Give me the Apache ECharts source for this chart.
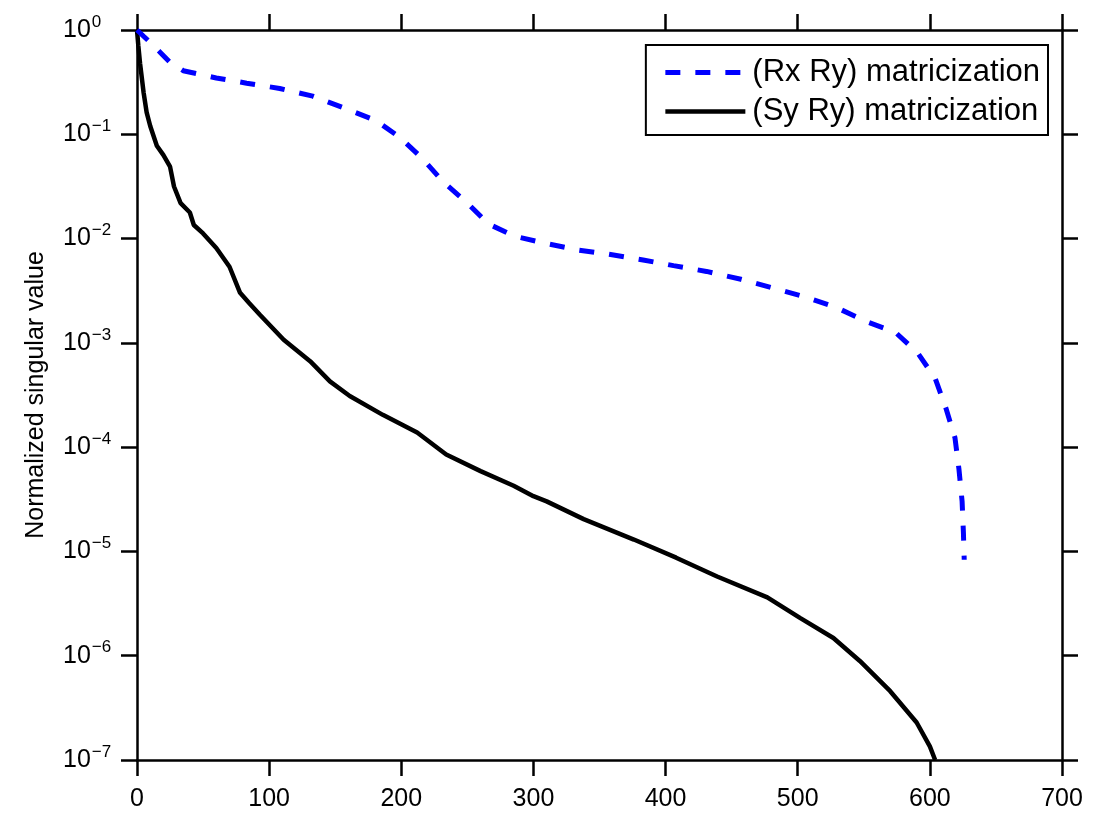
<!DOCTYPE html>
<html>
<head>
<meta charset="utf-8">
<script src="https://cdn.jsdelivr.net/npm/echarts@6/dist/echarts.min.js"></script>
<style>
html,body{margin:0;padding:0;background:#fff;}
#chart{width:1095px;height:830px;}
</style>
</head>
<body>
<div id="chart"></div>
<script>
// ---- data ----
var xTicks = [0, 100, 200, 300, 400, 500, 600, 700];
var yTickExponents = ['0', '\u22121', '\u22122', '\u22123', '\u22124', '\u22125', '\u22126', '\u22127'];
var seriesNames = ['(Rx Ry) matricization', '(Sy Ry) matricization'];

var rxX = [0, 5, 10, 18, 25, 35, 60, 83, 108, 133, 158, 181, 199, 215, 232, 250, 266, 286, 311, 334, 357, 383, 406, 431, 457, 480, 503, 529, 553, 574, 591, 604, 612, 619, 622, 624.4, 625.4, 626];
var rxY = [1, 0.871, 0.759, 0.603, 0.490, 0.407, 0.347, 0.309, 0.275, 0.232, 0.176, 0.135, 0.0933, 0.0603, 0.0347, 0.0219, 0.0138, 0.0105, 0.00891, 0.00776, 0.00708, 0.00624, 0.00550, 0.00484, 0.00407, 0.00339, 0.00282, 0.00219, 0.00158, 0.00126, 7.94e-4, 4.57e-4, 2.40e-4, 1.23e-4, 6.17e-5, 3.02e-5, 1.51e-5, 8.32e-6];

var syX = [0, 1, 2.3, 5, 7.3, 10, 15, 20, 25, 28, 33, 40, 43, 50, 60, 70, 78, 85, 93, 111, 131, 146, 161, 186, 212, 234, 260, 285, 300, 310, 338, 376, 408, 439, 477, 502, 527, 547, 570, 590, 600, 604];
var syY = [1, 0.708, 0.479, 0.251, 0.162, 0.120, 0.0776, 0.0631, 0.0490, 0.0316, 0.0219, 0.0178, 0.0135, 0.0112, 0.00813, 0.00537, 0.00302, 0.00240, 0.00186, 0.00107, 6.68e-4, 4.27e-4, 3.09e-4, 2.04e-4, 1.38e-4, 8.51e-5, 5.89e-5, 4.27e-5, 3.39e-5, 3.02e-5, 2.04e-5, 1.30e-5, 8.71e-6, 5.75e-6, 3.63e-6, 2.29e-6, 1.48e-6, 8.91e-7, 4.57e-7, 2.29e-7, 1.35e-7, 1.0e-7];

// ---- chart ----
function pairs(xs, ys) { return xs.map(function (x, i) { return [x, ys[i]]; }); }

var FONT = '"Liberation Sans", Arial, Helvetica, sans-serif';
var BLUE_LINE = { color: '#0000ff', width: 5, type: [15, 15] };
var BLACK_LINE = { color: '#000000', width: 4.5 };
var axisLine = { show: true, onZero: false, lineStyle: { color: '#000', width: 2.5 } };
var axisTick = { show: true, inside: false, length: 16, lineStyle: { color: '#000', width: 2.5 } };

var chart = echarts.init(document.getElementById('chart'), null, { renderer: 'canvas' });
chart.setOption({
  backgroundColor: '#fff',
  animation: false,
  textStyle: { fontFamily: FONT },
  grid: { left: 137, right: 33, top: 30, bottom: 70, containLabel: false },
  legend: {
    data: [
      { name: seriesNames[0], itemStyle: { opacity: 0 }, lineStyle: BLUE_LINE },
      { name: seriesNames[1], itemStyle: { opacity: 0 }, lineStyle: BLACK_LINE }
    ],
    orient: 'vertical',
    right: 47,
    top: 45,
    padding: [12, 8, 8, 17],
    itemGap: 8,
    itemWidth: 80,
    itemHeight: 24,
    itemStyle: { opacity: 0 },
    borderColor: '#000',
    borderWidth: 2,
    borderRadius: 0,
    backgroundColor: '#fff',
    textStyle: { fontFamily: FONT, fontSize: 31, lineHeight: 30, color: '#000', padding: [0, 0, 0, 2] }
  },
  xAxis: [
    {
      type: 'value', position: 'bottom', min: xTicks[0], max: xTicks[xTicks.length - 1], interval: 100,
      axisLine: axisLine, axisTick: axisTick, splitLine: { show: false },
      axisLabel: { show: true, fontFamily: FONT, fontSize: 25, color: '#000', margin: 27 }
    },
    {
      type: 'value', position: 'top', min: xTicks[0], max: xTicks[xTicks.length - 1], interval: 100,
      axisLine: axisLine, axisTick: axisTick, splitLine: { show: false }, axisLabel: { show: false }
    }
  ],
  yAxis: [
    {
      type: 'log', logBase: 10, min: 1e-7, max: 1, interval: 1, position: 'left',
      axisLine: axisLine, axisTick: axisTick, splitLine: { show: false }, minorTick: { show: false },
      name: 'Normalized singular value', nameLocation: 'middle', nameGap: 88, nameRotate: 90,
      nameTextStyle: { fontFamily: FONT, fontSize: 25, color: '#000' },
      axisLabel: {
        show: true, align: 'left', margin: 74, color: '#000',
        formatter: function (v) {
          var e = Math.round(Math.log10(v));
          return '{b|10}{s|' + yTickExponents[-e] + '}';
        },
        rich: {
          b: { fontFamily: FONT, fontSize: 25, color: '#000', lineHeight: 25, verticalAlign: 'bottom' },
          s: { fontFamily: FONT, fontSize: 17, color: '#000', lineHeight: 17, verticalAlign: 'bottom', padding: [0, 0, 12, 1] }
        }
      }
    },
    {
      type: 'log', logBase: 10, min: 1e-7, max: 1, interval: 1, position: 'right',
      axisLine: axisLine, axisTick: axisTick, splitLine: { show: false }, axisLabel: { show: false }
    }
  ],
  series: [
    {
      name: seriesNames[0], type: 'line', xAxisIndex: 0, yAxisIndex: 0,
      data: pairs(rxX, rxY), showSymbol: false, symbol: 'none', smooth: false,
      lineStyle: BLUE_LINE, itemStyle: { color: '#0000ff' }, z: 3
    },
    {
      name: seriesNames[1], type: 'line', xAxisIndex: 0, yAxisIndex: 0,
      data: pairs(syX, syY), showSymbol: false, symbol: 'none', smooth: false,
      lineStyle: BLACK_LINE, itemStyle: { color: '#000' }, z: 2
    }
  ]
});
</script>
</body>
</html>
